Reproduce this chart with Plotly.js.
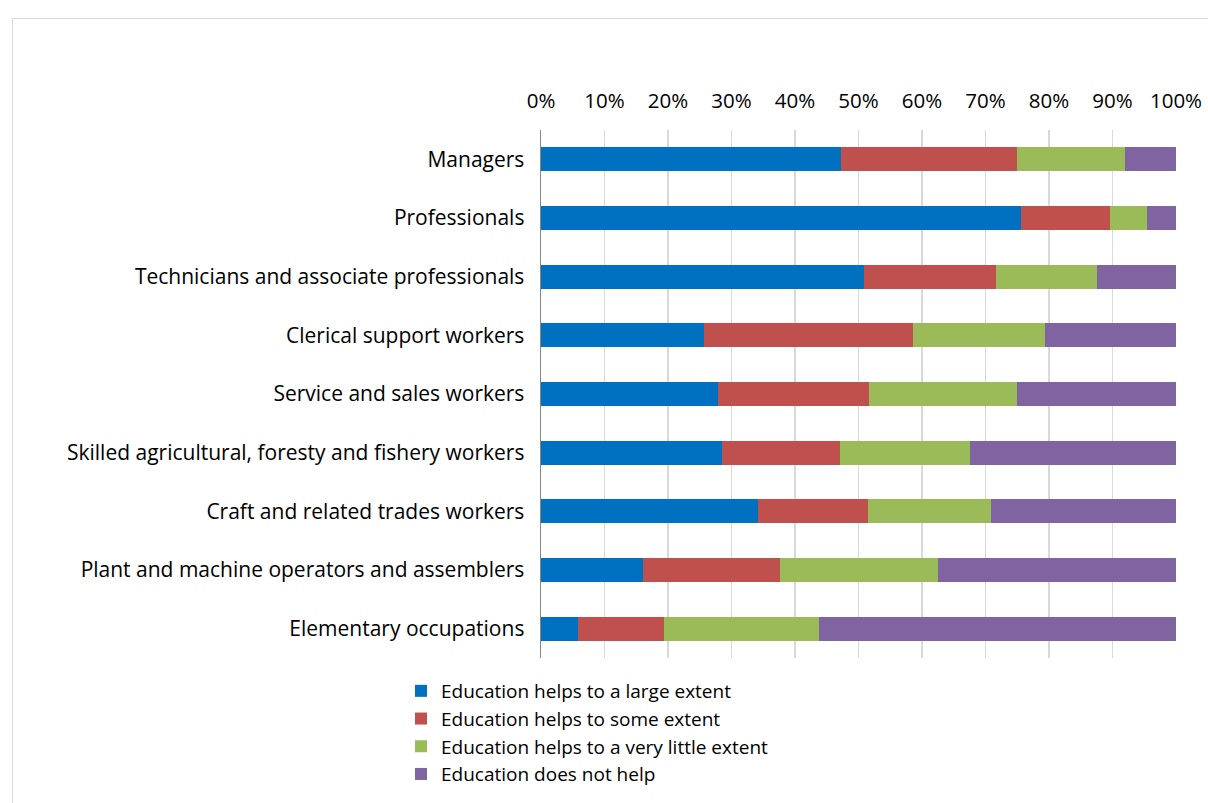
<!DOCTYPE html>
<html>
<head>
<meta charset="utf-8">
<script src="https://cdn.plot.ly/plotly-3.0.1.min.js"></script>
<style>
  body { margin: 0; background: #fff; }
  #frame { position: absolute; left: 12px; top: 18px; width: 1300px; height: 900px; border: 1px solid #d9d9d9; }
  #chart { position: absolute; left: 0; top: 0; width: 1208px; height: 803px; }
</style>
</head>
<body>
<div id="frame"></div>
<div id="chart"></div>
<script>
const categories = [
  "Managers",
  "Professionals",
  "Technicians and associate professionals",
  "Clerical support workers",
  "Service and sales workers",
  "Skilled agricultural, foresty and fishery workers",
  "Craft and related trades workers",
  "Plant and machine operators and assemblers",
  "Elementary occupations"
];
const largeExtent    = [47.2, 75.6, 50.9, 25.7, 27.9, 28.5, 34.2, 16.1, 5.8];
const someExtent     = [27.8, 14.0, 20.8, 32.9, 23.8, 18.6, 17.3, 21.5, 13.5];
const littleExtent   = [16.9,  5.9, 15.8, 20.8, 23.3, 20.4, 19.4, 24.9, 24.4];
const doesNotHelp    = [ 8.1,  4.5, 12.5, 20.6, 25.0, 32.5, 29.1, 37.5, 56.3];
const seriesNames = [
  "Education helps to a large extent",
  "Education helps to some extent",
  "Education helps to a very little extent",
  "Education does not help"
];
const colors = ["#0070C0", "#C0504D", "#9BBB59", "#8064A2"];
const tickVals = [0,10,20,30,40,50,60,70,80,90,100];
const tickText = ["0%","10%","20%","30%","40%","50%","60%","70%","80%","90%","100%"];

const allSeries = [largeExtent, someExtent, littleExtent, doesNotHelp];
const traces = allSeries.map((vals, i) => ({
  type: "bar",
  orientation: "h",
  y: categories,
  x: vals,
  name: seriesNames[i],
  marker: { color: colors[i], line: { width: 0 } },
  width: 0.41,
  hoverinfo: "x+y+name"
}));

const fam = "Open Sans, Liberation Sans, Arial, sans-serif";
const font = { family: fam, size: 21, color: "#000" };
const tickFont = { family: fam, size: 20.5, color: "#000" };
const legFont = { family: fam, size: 19, color: "#000" };

const layout = {
  width: 1208,
  height: 803,
  paper_bgcolor: "rgba(0,0,0,0)",
  plot_bgcolor: "rgba(0,0,0,0)",
  barmode: "stack",
  font: font,
  margin: { l: 541, r: 32, t: 130, b: 145, pad: 0, autoexpand: false },
  xaxis: {
    side: "top",
    range: [0, 100],
    tickvals: tickVals,
    ticktext: tickText,
    showgrid: true,
    gridcolor: "#d9d9d9",
    gridwidth: 1.5,
    zeroline: false,
    showline: false,
    ticks: "",
    ticklen: 0,
    ticklabelstandoff: 17,
    tickfont: tickFont,
    fixedrange: true
  },
  yaxis: {
    autorange: "reversed",
    showline: true,
    linecolor: "#868686",
    linewidth: 1.5,
    ticks: "",
    ticklen: 0,
    showgrid: false,
    zeroline: false,
    tickfont: font,
    ticksuffix: "  ",
    fixedrange: true
  },
  legend: {
    orientation: "v",
    x: (401 - 541) / 635,
    xanchor: "left",
    y: -0.0265,
    yanchor: "top",
    font: legFont,
    traceorder: "normal",
    itemwidth: 30,
    tracegroupgap: 0,
    bgcolor: "rgba(0,0,0,0)"
  },
  showlegend: true
};

Plotly.newPlot("chart", traces, layout, { displayModeBar: false, staticPlot: true });
</script>
</body>
</html>
